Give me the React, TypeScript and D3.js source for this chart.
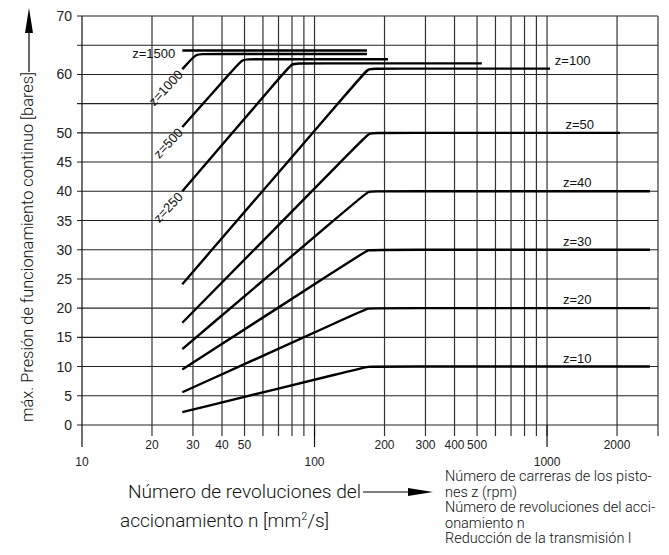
import React from 'react';
import * as d3 from 'd3';

// Curves (z = piston strokes per minute)
const zLabels = ['z=10', 'z=20', 'z=30', 'z=40', 'z=50', 'z=100', 'z=250', 'z=500', 'z=1000'];
const startN = [27, 27, 27, 27, 27, 27, 27, 27, 27];
const startP = [2.2, 5.6, 9.5, 13, 17.5, 24.1, 40, 51, 60.9];
const kneeN = [170, 170, 170, 170, 172, 170, 80, 49, 31];
const plateauP = [10, 20, 30, 40, 50, 61, 61.9, 62.6, 63.5];
const endN = [2770, 2770, 2770, 2770, 2060, 1030, 524, 207, 168];
// label positions (n where right-side labels start), null = rotated label at start
const labelN = [1170, 1170, 1170, 1170, 1200, 1080, null, null, null];

const z1500Label = 'z=1500';
const z1500N = [27, 168];
const z1500P = 64.1;

const yGrid = [0, 5, 10, 15, 20, 25, 30, 35, 40, 45, 50, 55, 60, 65, 70];
const yLabeled = [0, 5, 10, 15, 20, 25, 30, 35, 40, 45, 50, 60, 70];
const xGrid = [20, 30, 40, 50, 60, 70, 80, 90, 100, 200, 300, 400, 500, 600, 700, 800, 900, 1000, 2000, 3000];
const xLabelsHigh = [20, 30, 40, 50, 200, 300, 400, 500, 2000];
const xLabelsLow = [10, 100, 1000];

const yTitle = 'máx. Presión de funcionamiento continuo [bares]';
const xTitle1 = 'Número de revoluciones del';
const xTitle2a = 'accionamiento n [mm';
const xTitle2b = '2';
const xTitle2c = '/s]';
const noteLines = [
  'Número de carreras de los pisto-',
  'nes z (rpm)',
  'Número de revoluciones del acci-',
  'onamiento n',
  'Reducción de la transmisión l',
];

const W = 669;
const H = 555;

export default function App() {
  const x = d3.scaleLog().domain([10, 3000]).range([82, 658]);
  const y = d3.scaleLinear().domain([0, 70]).range([425, 16]);
  const line = d3
    .line<[number, number]>()
    .x((d) => x(d[0]))
    .y((d) => y(d[1]))
    .curve(d3.curveBasis);
  const straight = d3
    .line<[number, number]>()
    .x((d) => x(d[0]))
    .y((d) => y(d[1]));

  const f = 1.07;
  const curves = zLabels.map((lab, i) => {
    const s = startN[i];
    const k = kneeN[i];
    const a = k / f;
    const t = (Math.log(a) - Math.log(s)) / (Math.log(k) - Math.log(s));
    const pa = startP[i] + t * (plateauP[i] - startP[i]);
    const pts: [number, number][] = [
      [s, startP[i]],
      [a, pa],
      [k, plateauP[i]],
      [k * f, plateauP[i]],
      [endN[i], plateauP[i]],
    ];
    return { lab, d: line(pts) as string, i };
  });

  const tickFont = '"Liberation Sans", Arial, sans-serif';
  const titleFont = 'Roboto, "Noto Sans", sans-serif';

  return (
    <svg
      width={W}
      height={H}
      viewBox={`0 0 ${W} ${H}`}
      style={{ position: 'absolute', left: 0, top: 0, background: '#fff' }}
    >
      <rect x={0} y={0} width={W} height={H} fill="#fff" />
      {/* horizontal grid */}
      {yGrid.map((v) => (
        <line key={'h' + v} x1={x(10) - 5} x2={x(3000)} y1={y(v)} y2={y(v)} stroke="#222" strokeWidth={1.1} />
      ))}
      {/* vertical grid */}
      {xGrid.map((v) => (
        <line key={'v' + v} x1={x(v)} x2={x(v)} y1={y(70)} y2={y(0) + 11} stroke="#333" strokeWidth={1.2} />
      ))}
      {/* left axis + long ticks */}
      <line x1={x(10)} x2={x(10)} y1={y(70)} y2={y(0) + 22} stroke="#111" strokeWidth={1.2} />
      {[100, 1000].map((v) => (
        <line key={'lt' + v} x1={x(v)} x2={x(v)} y1={y(0)} y2={y(0) + 22} stroke="#111" strokeWidth={1.2} />
      ))}

      {/* y tick labels */}
      {yLabeled.map((v) => (
        <text key={'yl' + v} x={72} y={y(v) + 5} textAnchor="end" fontFamily={tickFont} fontSize={14} fill="#222">
          {v}
        </text>
      ))}
      {/* x tick labels */}
      {xLabelsHigh.map((v) => (
        <text key={'xh' + v} x={x(v)} y={449} textAnchor="middle" fontFamily={tickFont} fontSize={12} fill="#222">
          {v}
        </text>
      ))}
      {xLabelsLow.map((v) => (
        <text key={'xl' + v} x={x(v)} y={466} textAnchor="middle" fontFamily={tickFont} fontSize={12} fill="#222">
          {v}
        </text>
      ))}

      {/* curves */}
      {curves.map((c) => (
        <path key={c.lab} d={c.d} fill="none" stroke="#000" strokeWidth={2.4} strokeLinecap="butt" />
      ))}
      <path
        d={straight([[z1500N[0], z1500P], [z1500N[1], z1500P]]) as string}
        fill="none"
        stroke="#000"
        strokeWidth={2.4}
      />

      {/* right labels */}
      {curves.map((c) =>
        labelN[c.i] != null ? (
          <text
            key={'lab' + c.lab}
            x={x(labelN[c.i] as number)}
            y={y(plateauP[c.i]) - 4}
            fontFamily={tickFont}
            fontSize={13}
            fill="#111"
          >
            {c.lab}
          </text>
        ) : (
          <text
            key={'lab' + c.lab}
            transform={`translate(${x(startN[c.i]) - 2},${y(startP[c.i]) + 3}) rotate(-47)`}
            textAnchor="end"
            dominantBaseline="central"
            fontFamily={tickFont}
            fontSize={13}
            fill="#111"
          >
            {c.lab}
          </text>
        )
      )}
      <text x={x(z1500N[0]) - 7} y={y(z1500P) + 8} textAnchor="end" fontFamily={tickFont} fontSize={13} fill="#111">
        {z1500Label}
      </text>

      {/* y title with arrow */}
      <text
        transform="translate(33,422) rotate(-90)"
        fontFamily={titleFont}
        fontWeight={300}
        fontSize={17}
        textLength={350}
        lengthAdjust="spacingAndGlyphs"
        fill="#111"
      >
        {yTitle}
      </text>
      <line x1={29} x2={29} y1={72} y2={30} stroke="#000" strokeWidth={1.2} />
      <path d="M29,8 L25,33 L33,33 Z" fill="#000" />

      {/* x title */}
      <text x={128} y={498} fontFamily={titleFont} fontWeight={300} fontSize={19} textLength={233} lengthAdjust="spacingAndGlyphs" fill="#111">
        {xTitle1}
      </text>
      <text x={120} y={527} fontFamily={titleFont} fontWeight={300} fontSize={19} fill="#111">
        {xTitle2a}
        <tspan dy={-7} fontSize={11}>{xTitle2b}</tspan>
        <tspan dy={7}>{xTitle2c}</tspan>
      </text>
      <line x1={363} x2={412} y1={492} y2={492} stroke="#000" strokeWidth={1.2} />
      <path d="M433,492 L408,488 L408,496 Z" fill="#000" />

      {/* note */}
      {noteLines.map((t, i) => (
        <text key={'n' + i} x={445} y={481 + i * 15.5} fontFamily={titleFont} fontWeight={300} fontSize={14.5} fill="#111">
          {t}
        </text>
      ))}
    </svg>
  );
}
